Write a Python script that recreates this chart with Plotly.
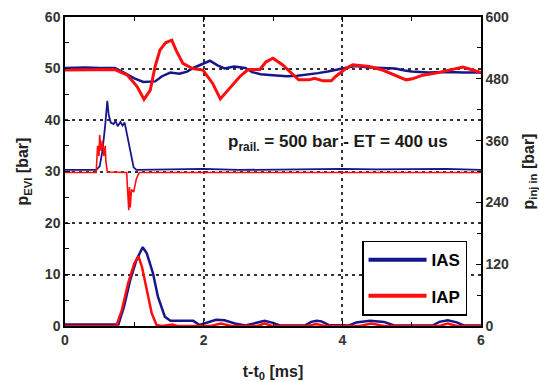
import plotly.graph_objects as go

# ---- data ----
# top traces (right axis, bar)
t_top_ias = [0, 0.3, 0.5, 0.72, 0.85, 1.0, 1.13, 1.3, 1.4, 1.52, 1.65, 1.76, 1.85, 2.0, 2.09, 2.2, 2.3, 2.44,
             2.6, 2.7, 2.82, 3.0, 3.2, 3.35, 3.5, 3.65, 3.79, 3.9, 4.03, 4.18, 4.4, 4.6, 4.76, 4.9, 5.0,
             5.24, 5.5, 5.75, 6.0]
p_top_ias = [501, 502, 501, 501, 492, 481, 474, 475, 485, 492, 490, 494, 501, 510, 515, 506, 500, 504,
             501, 493, 489, 487, 485, 486, 488, 491, 494, 497, 500, 505, 502, 501, 500, 496, 494,
             492, 493, 492, 492]
t_top_iap = [0, 0.72, 0.8, 0.9, 1.04, 1.14, 1.23, 1.3, 1.37, 1.45, 1.54, 1.6, 1.7, 1.84, 1.99, 2.13, 2.24,
             2.35, 2.52, 2.64, 2.81, 2.9, 3.0, 3.14, 3.3, 3.37, 3.52, 3.6, 3.72, 3.84, 3.9, 4.05, 4.15,
             4.39, 4.58, 4.77, 4.92, 5.01, 5.16, 5.35, 5.6, 5.74, 5.88, 6.0]
p_top_iap = [497, 498, 493, 487, 465, 440, 458, 504, 536, 550, 555, 536, 510, 500, 497, 471, 441,
             458, 484, 498, 498, 513, 520, 507, 487, 478, 478, 481, 476, 476, 484, 500, 507,
             504, 497, 487, 478, 480, 487, 491, 498, 503, 497, 492]

# middle traces (left axis, bar)
t_mid_ias = [0, 0.45, 0.5, 0.54, 0.58, 0.61, 0.63, 0.66, 0.7, 0.73, 0.76, 0.8, 0.83, 0.86, 0.89, 0.94,
             0.99, 1.03, 1.5, 2.0, 2.5, 3.0, 3.5, 4.0, 4.5, 5.0, 5.5, 6.0]
p_mid_ias = [30.3, 30.3, 31.0, 34.0, 39.0, 43.7, 41.0, 39.5, 39.2, 39.8, 38.8, 39.6, 38.9, 39.5, 37.5, 34.0,
             30.8, 30.3, 30.4, 30.5, 30.3, 30.4, 30.5, 30.5, 30.4, 30.4, 30.5, 30.3]
t_mid_iap = [0, 0.45, 0.47, 0.49, 0.5, 0.52, 0.54, 0.56, 0.58, 0.59, 0.61, 0.89, 0.9, 0.91, 0.92, 0.93,
             0.94, 0.96, 0.99, 1.03, 1.07, 6.0]
p_mid_iap = [29.8, 29.8, 35.0, 33.0, 37.1, 34.0, 36.0, 33.0, 35.0, 32.0, 29.9, 29.8, 27.0, 24.0, 22.5, 27.0,
             23.0, 26.5, 26.0, 28.6, 29.8, 29.8]

# bottom traces (left axis, bar)
t_bot_ias = [0, 0.77, 0.85, 0.94, 1.03, 1.12, 1.18, 1.27, 1.34, 1.44, 1.52, 1.7, 1.85, 1.94, 2.05, 2.18,
             2.3, 2.45, 2.6, 2.75, 2.88, 3.0, 3.1, 3.46, 3.55, 3.63, 3.7, 3.8, 4.1, 4.2, 4.4, 4.6, 4.75,
             5.3, 5.4, 5.52, 5.65, 5.75, 6.0]
p_bot_ias = [0.3, 0.3, 3.7, 8.9, 12.8, 15.3, 14.1, 10.2, 5.7, 1.8, 1.0, 1.0, 1.0, 0.2, 0.6, 1.2,
             1.1, 0.5, 0.1, 0.6, 1.0, 0.6, 0.1, 0.1, 0.8, 1.0, 0.9, 0.2, 0.1, 0.7, 1.0, 0.8, 0.1,
             0.1, 0.8, 1.1, 0.7, 0.1, 0.1]
t_bot_iap = [0, 0.74, 0.82, 0.91, 1.0, 1.06, 1.11, 1.18, 1.25, 1.32, 1.4, 1.55, 1.62, 2.1, 2.25, 2.4,
             2.78, 2.88, 2.98, 3.5, 3.62, 3.75, 4.25, 4.42, 4.6, 5.4, 5.52, 5.65, 6.0]
p_bot_iap = [0, 0, 3.1, 8.3, 12.2, 13.5, 11.5, 7.0, 2.5, 0.2, 0, 0.3, 0, 0, 0.5, 0,
             0, 0.5, 0, 0, 0.4, 0, 0, 0.5, 0, 0, 0.5, 0, 0]

legend_names = ["IAS", "IAP"]
BLUE = "#16168c"
RED = "#ff0d0d"
FONT = "Liberation Sans, Arial, sans-serif"

fig = go.Figure()
# blue traces
fig.add_trace(go.Scatter(x=t_top_ias, y=p_top_ias, yaxis="y2", mode="lines",
                         line=dict(color=BLUE, width=2.5), showlegend=False))
fig.add_trace(go.Scatter(x=t_mid_ias, y=p_mid_ias, mode="lines",
                         line=dict(color=BLUE, width=1.8), showlegend=False))
fig.add_trace(go.Scatter(x=t_bot_ias, y=p_bot_ias, mode="lines",
                         line=dict(color=BLUE, width=2.5), showlegend=False))
# red traces
fig.add_trace(go.Scatter(x=t_top_iap, y=p_top_iap, yaxis="y2", mode="lines",
                         line=dict(color=RED, width=3), showlegend=False))
fig.add_trace(go.Scatter(x=t_mid_iap, y=p_mid_iap, mode="lines",
                         line=dict(color=RED, width=1.6), showlegend=False))
fig.add_trace(go.Scatter(x=t_bot_iap, y=p_bot_iap, mode="lines",
                         line=dict(color=RED, width=2.5), showlegend=False))
# legend entries
fig.add_trace(go.Scatter(x=[None], y=[None], mode="lines", name=legend_names[0], legendgroup="a",
                         line=dict(color=BLUE, width=4)))
fig.add_trace(go.Scatter(x=[None], y=[None], mode="lines", name=legend_names[1], legendgroup="b",
                         line=dict(color=RED, width=4)))

tickfont = dict(family=FONT, size=14, color="#333333", weight="bold")
titlefont = dict(family=FONT, size=16, color="#222222", weight="bold")
grid = dict(showgrid=True, gridcolor="#333333", gridwidth=1.5, griddash="3px,4px")

fig.update_layout(
    width=539, height=382,
    margin=dict(l=65, r=58, t=17, b=56, autoexpand=False),
    paper_bgcolor="white", plot_bgcolor="white",
    font=dict(family=FONT),
    xaxis=dict(range=[0, 6], tickvals=[0, 2, 4, 6], ticks="inside", ticklen=5, tickcolor="black",
               minor=dict(ticks="inside", dtick=1, ticklen=4, tickcolor="black", showgrid=False),
               showline=True, linecolor="black", linewidth=1.5, mirror="ticks",
               tickfont=tickfont, zeroline=False, automargin=False,
               title=dict(text="t-t<sub>0</sub> [ms]", font=titlefont, standoff=22), **grid),
    yaxis=dict(range=[0, 60], dtick=10, ticks="inside", ticklen=5, tickcolor="black",
               minor=dict(ticks="inside", dtick=5, ticklen=4, tickcolor="black", showgrid=False),
               showline=True, linecolor="black", linewidth=1.5, mirror=True,
               tickfont=tickfont, zeroline=False, automargin=False,
               title=dict(text="p<sub>EVI</sub> [bar]", font=titlefont, standoff=12), **grid),
    yaxis2=dict(range=[0, 600], dtick=120, overlaying="y", side="right", ticks="inside", ticklen=5,
                tickcolor="black",
                minor=dict(ticks="inside", dtick=60, ticklen=4, tickcolor="black", showgrid=False),
                showline=True, linecolor="black", linewidth=1.5, showgrid=False, zeroline=False,
                tickfont=tickfont, automargin=False,
                title=dict(text="p<sub>inj in</sub> [bar]", font=titlefont, standoff=18)),
    legend=dict(x=0.714, y=0.276, xanchor="left", yanchor="top",
                bordercolor="black", borderwidth=1.5, bgcolor="white",
                font=dict(family=FONT, size=17, color="black", weight="bold"),
                itemwidth=58, tracegroupgap=11),
    annotations=[dict(x=3.94, y=35.5, xref="x", yref="y", showarrow=False,
                      text="p<sub>rail.</sub> = 500 bar - ET = 400 us",
                      font=dict(family=FONT, size=17, color="#1a1a1a", weight="bold"))],
)

fig.write_html("out.html")
